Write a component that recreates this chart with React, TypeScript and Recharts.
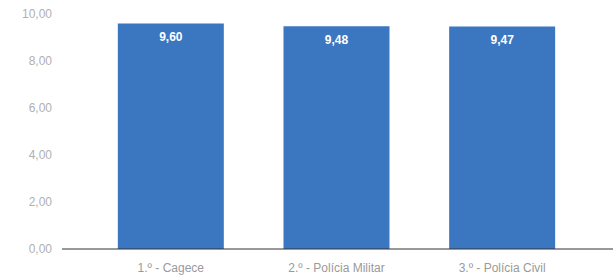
import React from 'react';
import { BarChart, Bar, XAxis, YAxis, LabelList } from 'recharts';

const categories = ['1.º - Cagece', '2.º - Polícia Militar', '3.º - Polícia Civil'];
const scores = [9.6, 9.48, 9.47];
const yTicks = [0, 2, 4, 6, 8, 10];

const data = categories.map((name, i) => ({ name, value: scores[i] }));
const fmt = (v: number) => Number(v).toFixed(2).replace('.', ',');

export default function App() {
  return (
    <div style={{ position: 'absolute', left: 0, top: 0, background: '#fff' }}>
      <BarChart
        width={615}
        height={278}
        data={data}
        margin={{ top: 14, right: 2, bottom: 0, left: 0 }}
        barCategoryGap="18%"
      >
        <XAxis
          dataKey="name"
          height={29}
          tickLine={false}
          tickMargin={8}
          axisLine={{ stroke: '#333', strokeWidth: 1 }}
          tick={{ fill: '#9a9a9a', fontSize: 12, fontFamily: 'Liberation Sans, Arial, sans-serif' }}
          padding={{ left: 26, right: 28 }}
          interval={0}
        />
        <YAxis
          width={62}
          domain={[0, 10]}
          ticks={yTicks}
          tickFormatter={fmt}
          axisLine={false}
          tickLine={false}
          tickMargin={4}
          tick={{ fill: '#b0b0b0', fontSize: 12, fontFamily: 'Liberation Sans, Arial, sans-serif' }}
        />
        <Bar dataKey="value" fill="#3b77c0" isAnimationActive={false}>
          <LabelList
            dataKey="value"
            position="insideTop"
            offset={9}
            formatter={(v: any) => fmt(v)}
            fill="#fff"
            style={{ fontSize: 12, fontWeight: 'bold', fontFamily: 'Liberation Sans, Arial, sans-serif' }}
          />
        </Bar>
      </BarChart>
    </div>
  );
}
